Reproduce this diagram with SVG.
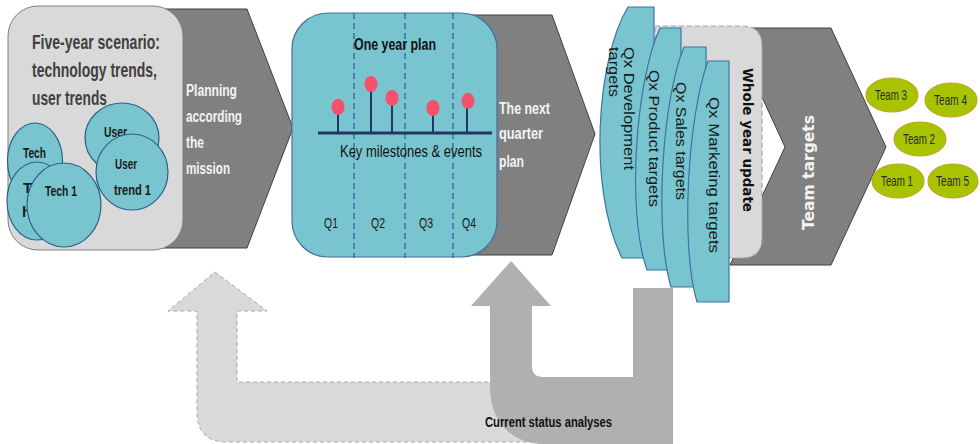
<svg xmlns="http://www.w3.org/2000/svg" width="980" height="444" viewBox="0 0 980 444">
  <style>
    .nar { font-family: "Liberation Sans Narrow", "Liberation Sans", Arial, sans-serif; }
    .wide { font-family: "DejaVu Sans", Verdana, sans-serif; font-weight: bold; }
    .chev { fill: #808080; stroke: #404040; stroke-width: 1; }
    .bubble { fill: #78c5cf; stroke: #2e5f8a; stroke-width: 1.2; }
    .card { fill: #78c5cf; stroke: #3d73a5; stroke-width: 1.2; }
    .team { fill: #a8c400; stroke: #c9a227; stroke-width: 1.2; }
    .title { font-size: 20.5px; font-weight: bold; fill: #404040; }
    .btxt { font-size: 15px; font-weight: bold; fill: #1a1a1a; }
    .wlab { font-size: 16px; font-weight: bold; fill: #f4f4f4; }
    .ctxt { font-size: 15px; fill: #1a1a1a; }
    .ttxt { font-size: 14.5px; fill: #2b2b2b; }
    .qtxt { font-size: 14px; fill: #1a1a1a; }
    .pin { fill: #f4516c; }
    .stem { stroke: #1f3864; stroke-width: 2; }
    .qline { stroke: #2f5597; stroke-width: 1.2; stroke-dasharray: 6 4; }
  </style>

  <!-- flow chevrons and feedback arrows -->
  <g id="connectors">
    <path id="chevron-mission" class="chev" d="M150,9 L247,9 L293,128 L247,248 L150,248 Z"/>
    <path id="chevron-quarter" class="chev" d="M450,15 L552,15 L595,134 L552,255 L450,255 Z"/>
    <path id="chevron-team" class="chev" d="M730,28 L831,28 L886,147 L831,265 L730,265 L785,147 Z"/>

    <!-- light feedback arrow back to the five-year scenario -->
    <path id="arrow-back" d="M215,272 L267,311 L237,311 L237,382 L640,382 L640,442 L227,442 Q197,442 197,412 L197,311 L168,311 Z"
          fill="#d9d9d9" stroke="#a6a6a6" stroke-width="1" stroke-dasharray="4 3"/>
    <!-- status arrow from the quarterly targets back to the one year plan -->
    <path id="arrow-status" d="M511,261 L551,306 L532,306 L532,366 Q532,377 543,377 L633,377 L633,288 L673,288 L673,444 L545,444 C510,444 490,420 490,387 L490,306 L471,306 Z"
          fill="#b0b0b0"/>
    <text class="nar" x="485" y="427" font-size="14.5" font-weight="bold" fill="#111" textLength="127" lengthAdjust="spacingAndGlyphs">Current status analyses</text>

    <text class="nar wlab" x="186" y="96" textLength="51" lengthAdjust="spacingAndGlyphs">Planning</text>
    <text class="nar wlab" x="186" y="122" textLength="56" lengthAdjust="spacingAndGlyphs">according</text>
    <text class="nar wlab" x="186" y="148" textLength="18" lengthAdjust="spacingAndGlyphs">the</text>
    <text class="nar wlab" x="186" y="174" textLength="44" lengthAdjust="spacingAndGlyphs">mission</text>

    <text class="nar wlab" x="499" y="114" textLength="51" lengthAdjust="spacingAndGlyphs">The next</text>
    <text class="nar wlab" x="499" y="139" textLength="44" lengthAdjust="spacingAndGlyphs">quarter</text>
    <text class="nar wlab" x="499" y="167" textLength="25" lengthAdjust="spacingAndGlyphs">plan</text>

    <text class="wide" font-size="16" fill="#f4f4f4" transform="translate(814,230) rotate(-90)" textLength="115" lengthAdjust="spacingAndGlyphs">Team targets</text>
  </g>

  <!-- five-year scenario -->
  <g id="five-year">
    <rect x="8" y="6" width="175" height="244" rx="30" fill="#d9d9d9" stroke="#7f7f7f" stroke-width="1"/>
    <text class="nar title" x="32" y="49" textLength="128" lengthAdjust="spacingAndGlyphs">Five-year scenario:</text>
    <text class="nar title" x="32" y="77" textLength="125" lengthAdjust="spacingAndGlyphs">technology trends,</text>
    <text class="nar title" x="32" y="105" textLength="75" lengthAdjust="spacingAndGlyphs">user trends</text>
  </g>

  <g id="user-trend-2">
    <ellipse class="bubble" cx="122" cy="138" rx="37" ry="35"/>
    <text class="nar btxt" x="104" y="137" textLength="23" lengthAdjust="spacingAndGlyphs">User</text>
  </g>
  <g id="user-trend-1">
    <ellipse class="bubble" cx="132" cy="172" rx="36" ry="38"/>
    <text class="nar btxt" x="115" y="169" textLength="22" lengthAdjust="spacingAndGlyphs">User</text>
    <text class="nar btxt" x="114" y="195" textLength="37" lengthAdjust="spacingAndGlyphs">trend 1</text>
  </g>
  <g id="tech-3">
    <ellipse class="bubble" cx="35" cy="161" rx="27.5" ry="38"/>
    <text class="nar btxt" x="23" y="158" textLength="23" lengthAdjust="spacingAndGlyphs">Tech</text>
  </g>
  <g id="tech-2">
    <ellipse class="bubble" cx="37" cy="201" rx="30" ry="39"/>
    <text class="nar btxt" x="23" y="193">T</text>
    <text class="nar btxt" x="22" y="217">h</text>
  </g>
  <g id="tech-1">
    <ellipse class="bubble" cx="64" cy="205" rx="37" ry="42"/>
    <text class="nar btxt" x="45" y="196" textLength="32" lengthAdjust="spacingAndGlyphs">Tech 1</text>
  </g>

  <!-- one year plan -->
  <g id="one-year-plan">
    <rect x="292" y="13" width="205" height="244" rx="36" fill="#78c5cf" stroke="#41719c" stroke-width="1.2"/>
    <line class="qline" x1="354" y1="13" x2="354" y2="258"/>
    <line class="qline" x1="405" y1="13" x2="405" y2="258"/>
    <line class="qline" x1="453" y1="13" x2="453" y2="258"/>
    <text class="nar" x="354" y="50" font-size="16.5" font-weight="bold" fill="#111" textLength="82" lengthAdjust="spacingAndGlyphs">One year plan</text>
    <g id="milestones">
      <line class="stem" x1="338" y1="107" x2="338" y2="133"/>
      <line class="stem" x1="371" y1="83" x2="371" y2="133"/>
      <line class="stem" x1="392" y1="98" x2="392" y2="133"/>
      <line class="stem" x1="433" y1="108" x2="433" y2="133"/>
      <line class="stem" x1="467" y1="101" x2="467" y2="133"/>
      <line x1="318" y1="133" x2="492" y2="133" stroke="#1f3864" stroke-width="3"/>
      <ellipse class="pin" cx="338" cy="107" rx="6.5" ry="8"/>
      <ellipse class="pin" cx="371" cy="84" rx="6.5" ry="8"/>
      <ellipse class="pin" cx="392" cy="98" rx="6.5" ry="8"/>
      <ellipse class="pin" cx="433" cy="108" rx="6.5" ry="8"/>
      <ellipse class="pin" cx="468" cy="101" rx="6.5" ry="8"/>
    </g>
    <text class="nar" x="340" y="157" font-size="16" fill="#111" textLength="142" lengthAdjust="spacingAndGlyphs">Key milestones &amp; events</text>
    <text class="nar qtxt" x="324" y="228" textLength="14" lengthAdjust="spacingAndGlyphs">Q1</text>
    <text class="nar qtxt" x="371" y="228" textLength="14" lengthAdjust="spacingAndGlyphs">Q2</text>
    <text class="nar qtxt" x="419" y="228" textLength="14" lengthAdjust="spacingAndGlyphs">Q3</text>
    <text class="nar qtxt" x="462" y="228" textLength="14" lengthAdjust="spacingAndGlyphs">Q4</text>
  </g>

  <!-- whole year update -->
  <g id="whole-year-update">
    <path d="M655,26 L742,26 Q762,26 762,46 L762,238 Q762,258 742,258 L655,258 Z"
          fill="#d9d9d9" stroke="#a6a6a6" stroke-width="1.2" stroke-dasharray="5 3"/>
    <text class="wide" font-size="14" fill="#111" transform="translate(743,68) rotate(90)" textLength="144" lengthAdjust="spacingAndGlyphs">Whole year update</text>
  </g>

  <!-- quarterly targets -->
  <g id="qx-development">
    <path class="card" d="M654,7 H628 C596,60 588,190 622,258 H654 Z"/>
    <text class="nar ctxt" transform="translate(624,47) rotate(90)" textLength="123" lengthAdjust="spacingAndGlyphs">Qx Development</text>
    <text class="nar ctxt" transform="translate(609,47) rotate(90)" textLength="50" lengthAdjust="spacingAndGlyphs">targets</text>
  </g>
  <g id="qx-product">
    <path class="card" d="M681,28 H660 C636,80 626,210 647,270 H681 Z"/>
    <text class="nar ctxt" transform="translate(649,70) rotate(90)" textLength="137" lengthAdjust="spacingAndGlyphs">Qx Product targets</text>
  </g>
  <g id="qx-sales">
    <path class="card" d="M706,47 H684 C662,100 654,230 671,287 H706 Z"/>
    <text class="nar ctxt" transform="translate(676,82) rotate(90)" textLength="118" lengthAdjust="spacingAndGlyphs">Qx Sales targets</text>
  </g>
  <g id="qx-marketing">
    <path class="card" d="M729,61 H708 C688,115 680,245 697,302 H729 Z"/>
    <text class="nar ctxt" transform="translate(709,97) rotate(90)" textLength="156" lengthAdjust="spacingAndGlyphs">Qx Marketing targets</text>
  </g>

  <!-- teams -->
  <g id="team-3">
    <ellipse class="team" cx="892" cy="95" rx="26" ry="17"/>
    <text class="nar ttxt" x="875" y="100" textLength="32" lengthAdjust="spacingAndGlyphs">Team 3</text>
  </g>
  <g id="team-4">
    <ellipse class="team" cx="951" cy="100" rx="26" ry="17"/>
    <text class="nar ttxt" x="934" y="105" textLength="33" lengthAdjust="spacingAndGlyphs">Team 4</text>
  </g>
  <g id="team-2">
    <ellipse class="team" cx="920" cy="139" rx="26" ry="17"/>
    <text class="nar ttxt" x="903" y="144" textLength="32" lengthAdjust="spacingAndGlyphs">Team 2</text>
  </g>
  <g id="team-1">
    <ellipse class="team" cx="898" cy="181" rx="26" ry="17"/>
    <text class="nar ttxt" x="881" y="186" textLength="32" lengthAdjust="spacingAndGlyphs">Team 1</text>
  </g>
  <g id="team-5">
    <ellipse class="team" cx="953" cy="181" rx="25" ry="17"/>
    <text class="nar ttxt" x="936" y="186" textLength="33" lengthAdjust="spacingAndGlyphs">Team 5</text>
  </g>
</svg>
